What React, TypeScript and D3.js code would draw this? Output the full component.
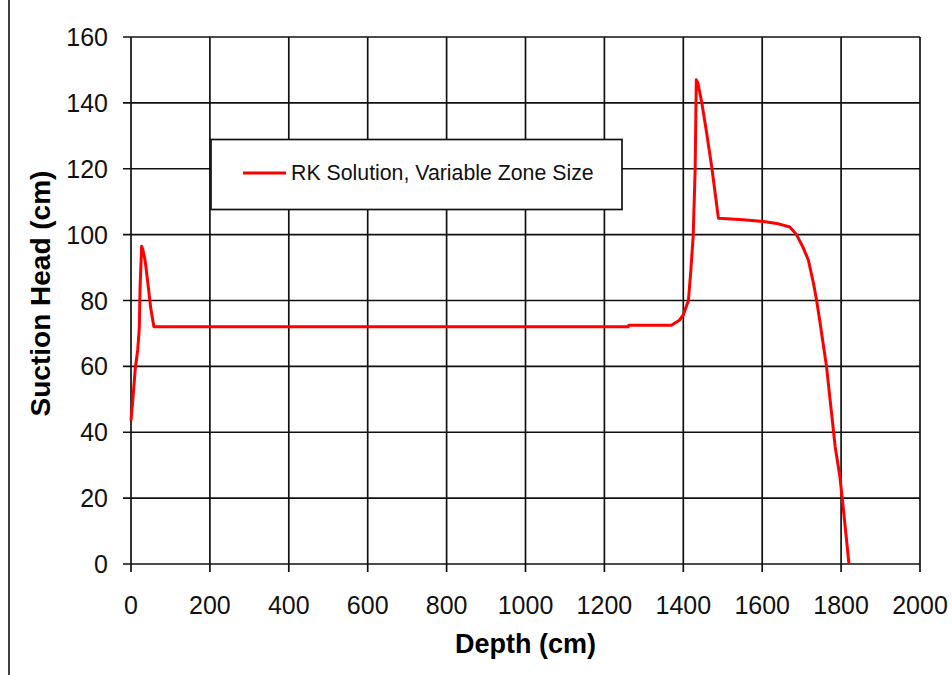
import React from "react";
import * as d3 from "d3";

const depth = [0, 4, 8, 11, 17, 21, 23, 27, 30, 36, 44, 50, 58, 1260, 1262, 1370, 1390, 1400, 1413, 1419, 1425, 1430, 1433, 1437, 1442, 1447, 1459, 1472, 1489, 1552, 1603, 1637, 1670, 1687, 1704, 1717, 1730, 1738, 1747, 1763, 1772, 1785, 1797, 1806, 1820];
const suction = [43.5, 49, 55, 59.5, 65, 71.5, 84, 96.5, 95.5, 92, 84, 77.7, 72, 72, 72.5, 72.5, 74, 75.6, 80, 89, 99.4, 119.6, 147, 146, 143, 140, 131, 120.6, 105, 104.5, 104, 103.4, 102.3, 100, 96, 92.3, 85.2, 80, 73, 60, 50, 35.6, 26.5, 16.4, 0];
const xTicks = [0, 200, 400, 600, 800, 1000, 1200, 1400, 1600, 1800, 2000];
const yTicks = [0, 20, 40, 60, 80, 100, 120, 140, 160];
const seriesName = "RK Solution, Variable Zone Size";
const xTitle = "Depth (cm)";
const yTitle = "Suction Head (cm)";

export default function App() {
  const W = 952, H = 675;
  const L = 131, R = 920, T = 37, B = 564;
  const x = d3.scaleLinear().domain([0, 2000]).range([L, R]);
  const y = d3.scaleLinear().domain([0, 160]).range([B, T]);
  const pts = depth.map((d, i) => [d, suction[i]] as [number, number]);
  const line = d3.line<[number, number]>().x(d => x(d[0])).y(d => y(d[1]));
  const font = "Liberation Sans, Arial, sans-serif";
  const gridColor = "#111";
  return (
    <svg width={W} height={H} style={{ position: "absolute", left: 0, top: 0, background: "#fff" }} fontFamily={font}>
      <rect x={0} y={0} width={W} height={H} fill="#fff" />
      <line x1={9} x2={9} y1={0} y2={H} stroke="#000" strokeWidth={1.5} />
      {xTicks.map(t => (
        <line key={"gx" + t} x1={x(t)} x2={x(t)} y1={T} y2={B + 8} stroke={gridColor} strokeWidth={1.7} />
      ))}
      {yTicks.map(t => (
        <line key={"gy" + t} x1={L - 8} x2={R} y1={y(t)} y2={y(t)} stroke={gridColor} strokeWidth={1.7} />
      ))}
      {xTicks.map(t => (
        <text key={"tx" + t} x={x(t)} y={614} textAnchor="middle" fontSize={25} fill="#111">{t}</text>
      ))}
      {yTicks.map(t => (
        <text key={"ty" + t} x={108} y={y(t) + 9} textAnchor="end" fontSize={25} fill="#111">{t}</text>
      ))}
      <path d={line(pts) || ""} fill="none" stroke="#ff0000" strokeWidth={3} strokeLinejoin="round" />
      <g>
        <rect x={211} y={139.5} width={411} height={70} fill="#fff" stroke="#111" strokeWidth={1.7} />
        <line x1={243} x2={286} y1={173} y2={173} stroke="#ff0000" strokeWidth={3} />
        <text x={291} y={180} fontSize={21.3} fill="#111">{seriesName}</text>
      </g>
      <text x={(L + R) / 2} y={653} textAnchor="middle" fontSize={27} fontWeight="bold" fill="#000">{xTitle}</text>
      <text transform={`translate(50,${(T + B) / 2 - 7}) rotate(-90)`} textAnchor="middle" fontSize={28} fontWeight="bold" fill="#000">{yTitle}</text>
    </svg>
  );
}
